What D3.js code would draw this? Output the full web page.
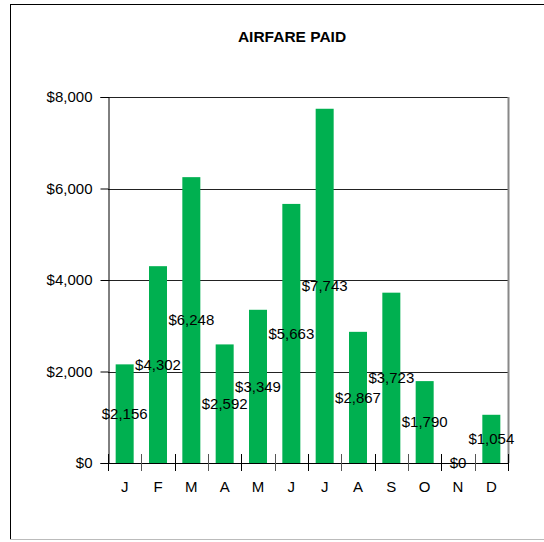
<!DOCTYPE html>
<html>
<head>
<meta charset="utf-8">
<script src="https://cdn.jsdelivr.net/npm/d3@7"></script>
<style>
  body { margin: 0; background: #fff; }
  text { font-family: "Liberation Sans", Arial, sans-serif; fill: #000; }
</style>
</head>
<body>
<svg id="chart" width="544" height="542"></svg>
<script>
const months = ["J", "F", "M", "A", "M", "J", "J", "A", "S", "O", "N", "D"];
const airfare = [2156, 4302, 6248, 2592, 3349, 5663, 7743, 2867, 3723, 1790, 0, 1054];
const yTicks = [0, 2000, 4000, 6000, 8000];

const svg = d3.select("#chart");
const plotLeft = 108, plotRight = 508, plotTop = 97, plotBottom = 463;

// outer frame
svg.append("rect")
  .attr("x", 10.5).attr("y", 4.5)
  .attr("width", 540).attr("height", 535)
  .attr("fill", "none").attr("stroke", "#000").attr("stroke-width", 1);
svg.append("line")
  .attr("x1", 10).attr("x2", 544).attr("y1", 539.5).attr("y2", 539.5)
  .attr("stroke", "#bbb");

svg.append("text")
  .attr("x", 292).attr("y", 42)
  .attr("text-anchor", "middle")
  .attr("font-size", 15.5).attr("font-weight", "bold")
  .text("AIRFARE PAID");

const x = d3.scaleBand()
  .domain(d3.range(months.length))
  .range([plotLeft, plotRight])
  .paddingInner(0.46).paddingOuter(0.23);
const xStep = (plotRight - plotLeft) / months.length;
const y = d3.scaleLinear().domain([0, 8000]).range([plotBottom, plotTop]);

// gridlines
svg.append("g")
  .selectAll("line")
  .data(yTicks)
  .join("line")
  .attr("x1", plotLeft).attr("x2", plotRight)
  .attr("y1", (d) => Math.round(y(d)) + 0.5)
  .attr("y2", (d) => Math.round(y(d)) + 0.5)
  .attr("stroke", "#222").attr("stroke-width", 1);

// right plot border (grey)
svg.append("line")
  .attr("x1", plotRight + 0.5).attr("x2", plotRight + 0.5)
  .attr("y1", plotTop).attr("y2", plotBottom)
  .attr("stroke", "#888").attr("stroke-width", 2);

// bars
svg.append("g")
  .attr("fill", "#00b050")
  .selectAll("rect")
  .data(airfare)
  .join("rect")
  .attr("x", (d, i) => x(i))
  .attr("width", x.bandwidth())
  .attr("y", (d) => y(d))
  .attr("height", (d) => plotBottom - y(d));

// y axis
const yAxis = d3.axisLeft(y)
  .tickValues(yTicks)
  .tickSize(8)
  .tickPadding(8)
  .tickFormat((d) => "$" + d3.format(",")(d));
const gy = svg.append("g")
  .attr("transform", `translate(${plotLeft + 0.5},0)`)
  .call(yAxis);
gy.select(".domain").attr("stroke", "#000");
gy.selectAll(".tick line").attr("stroke", "#000");
gy.selectAll("text")
  .attr("font-size", 15)
  .attr("font-family", "Liberation Sans, Arial, sans-serif")
  .attr("fill", "#000");

// x axis line + crossing ticks
svg.append("line")
  .attr("x1", plotLeft).attr("x2", plotRight)
  .attr("y1", plotBottom + 0.5).attr("y2", plotBottom + 0.5)
  .attr("stroke", "#000");
svg.append("g")
  .selectAll("line")
  .data(d3.range(months.length + 1))
  .join("line")
  .attr("x1", (i) => Math.round(plotLeft + i * xStep) + 0.5)
  .attr("x2", (i) => Math.round(plotLeft + i * xStep) + 0.5)
  .attr("y1", plotBottom - 9).attr("y2", plotBottom + 8)
  .attr("stroke", (i) => (i % 2 === 0 ? "#000" : "#555"));

svg.append("g")
  .selectAll("text")
  .data(months)
  .join("text")
  .attr("x", (d, i) => x(i) + x.bandwidth() / 2)
  .attr("y", 492)
  .attr("text-anchor", "middle")
  .attr("font-size", 15)
  .text((d) => d);

// value labels, centred in each bar
svg.append("g")
  .selectAll("text")
  .data(airfare)
  .join("text")
  .attr("x", (d, i) => x(i) + x.bandwidth() / 2)
  .attr("y", (d) => (y(d) + plotBottom) / 2)
  .attr("dy", "0.36em")
  .attr("text-anchor", "middle")
  .attr("font-size", 15)
  .text((d) => "$" + d3.format(",")(d));
</script>
</body>
</html>
